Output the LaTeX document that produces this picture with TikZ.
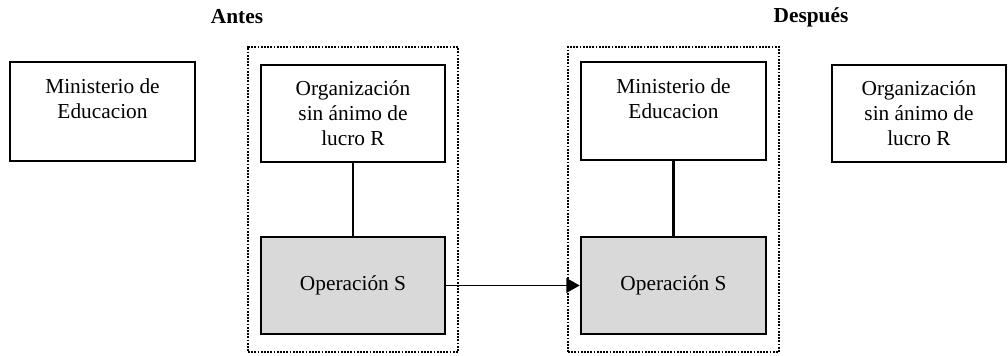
\documentclass[tikz,border=0pt]{standalone}
\usepackage{fontspec}
\setmainfont{Liberation Serif}
\usetikzlibrary{arrows.meta}
\begin{document}
\begin{tikzpicture}[x=0.75pt,y=-0.75pt,
  box/.style={draw,line width=2pt,rectangle,inner sep=0pt,align=center,
    font=\fontsize{16}{18.75}\selectfont},
  opbox/.style={box,fill=black!15},
  frame/.style={draw,rectangle,inner sep=0pt,line width=1.6pt,dash pattern=on 1.4pt off 1.0pt},
  title/.style={font=\fontsize{16}{18.75}\selectfont\bfseries},
  link/.style={line width=2pt},
  flow/.style={line width=1.1pt,-{Triangle[length=10pt,width=11pt]}}]
\useasboundingbox (0,0) rectangle (1008,356);
\node[frame,minimum width=157.5pt,minimum height=228.75pt] (dotL) at (353,199.5) {};
\node[frame,minimum width=158.25pt,minimum height=228.75pt] (dotR) at (673.5,199.5) {};
\node[title] (antes) at (237,17) {Antes};
\node[title] (despues) at (811,17) {Después};
\node[box,minimum width=138.75pt,minimum height=74.25pt] (minL) at (102.5,111.5) {Ministerio de\\Educacion\\~};
\node[box,minimum width=138pt,minimum height=72.75pt] (orgL) at (353,113.5) {Organización\\sin ánimo de\\lucro R};
\node[opbox,minimum width=138pt,minimum height=72.75pt] (opL) at (353,285.5) {Operación S};
\node[box,minimum width=138.75pt,minimum height=73.5pt] (minR) at (673.5,111) {Ministerio de\\Educacion\\~};
\node[opbox,minimum width=138.75pt,minimum height=72.75pt] (opR) at (673.5,285.5) {Operación S};
\node[box,minimum width=130.5pt,minimum height=72.75pt] (orgR) at (919,113.5) {Organización\\sin ánimo de\\lucro R};
\draw[link] (orgL.south) -- (opL.north);
\draw[link] (minR.south) -- (opR.north);
\draw[flow] (opL.east) -- (opR.west);
\end{tikzpicture}
\end{document}
